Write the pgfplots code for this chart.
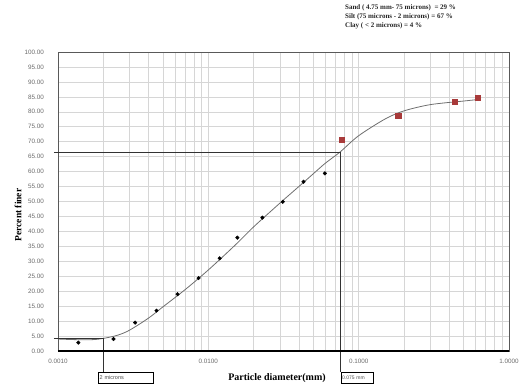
\documentclass[border=0pt]{standalone}
\usepackage{pgfplots}
\pgfplotsset{compat=1.18}
\usepackage{fontspec}
\setmainfont{Liberation Serif}
\setsansfont{Liberation Sans}
\definecolor{gridc}{HTML}{D6D6D6}
\definecolor{curvec}{HTML}{6E6E6E}
\definecolor{redm}{HTML}{A83A3A}
\definecolor{tickc}{HTML}{6A6A6A}
\begin{document}
\begin{tikzpicture}[x=1pt,y=1pt]
\useasboundingbox (-58,-36) rectangle (465,351);
\begin{axis}[
  at={(0,0)}, anchor=south west,
  scale only axis, width=451pt, height=299pt,
  xmode=log, xmin=0.001, xmax=1, ymin=0, ymax=100,
  ytick={0,5,...,100},
  xtick={0.001,0.01,0.1,1},
  xticklabels={0.0010,0.0100,0.1000,1.0000},
  /pgf/number format/assume math mode=true,
  yticklabel style={/pgf/number format/fixed,/pgf/number format/fixed zerofill,/pgf/number format/precision=2, xshift=-10.5pt},
  xticklabel style={yshift=-5pt},
  ticklabel style={font=\sffamily\fontsize{6.3}{7}\selectfont, text=tickc},
  grid=both,
  major grid style={gridc, line width=0.5pt},
  minor grid style={gridc, line width=0.5pt},
  major tick length=0pt, minor tick length=0pt,
  axis line style={draw=gray!70!black, line width=0.6pt},
  clip=false,
]
\addplot[smooth, curvec, line width=0.8pt] coordinates {
(0.001,4.0) (0.0013,3.8) (0.0017,3.8) (0.002,4.2) (0.0025,5.3) (0.003,7.0)
(0.004,11.0) (0.005,14.8) (0.007,20.5) (0.01,27.1) (0.015,35.3) (0.02,41.5)
(0.03,49.5) (0.04,55.0) (0.05,59.3) (0.06,62.8) (0.075,66.5) (0.1,72.0)
(0.15,77.6) (0.2,80.3) (0.3,82.4) (0.5,83.6) (0.65,84.2)};
\addplot[only marks, mark=*, mark size=1.8pt, black] coordinates {
(0.001365,2.8) (0.00234,4.0) (0.00326,9.5) (0.00452,13.5) (0.00624,19.0)
(0.00861,24.4) (0.0119,31.0) (0.0156,37.9) (0.0229,44.6) (0.0313,49.9)
(0.043,56.6) (0.0596,59.4)};
\addplot[only marks, mark=square*, mark size=2.6pt, redm] coordinates {
(0.0767,70.8) (0.183,78.8) (0.434,83.5) (0.618,84.6)};
\draw[black!80, line width=0.7pt] ([xshift=-4pt]axis cs:0.001,66.5) -- (axis cs:0.075,66.5) -- (axis cs:0.075,-7.0);
\draw[black!80, line width=0.7pt] ([xshift=-4pt]axis cs:0.001,4.2) -- (axis cs:0.002,4.2) -- (axis cs:0.002,-7.0);
\draw[black, line width=1.3pt] (axis cs:0.001,0) -- (axis cs:1,0);
\end{axis}
\node[draw=black, line width=0.4pt, inner sep=1pt, anchor=north west, minimum width=55pt, minimum height=11pt, text width=52pt, align=left, font=\sffamily\fontsize{5.5}{6}\selectfont, text=black!70] at (40,-21) {2 microns};
\node[draw=black, line width=0.4pt, inner sep=1pt, anchor=north west, minimum width=32pt, minimum height=11pt, text width=30pt, align=left, font=\sffamily\fontsize{5}{6}\selectfont, text=black!70] at (283,-21) {0.075 mm};
\node[rotate=90, font=\bfseries\fontsize{9.5}{11}\selectfont] at (-40,136) {Percent finer};
\node[font=\bfseries\fontsize{10}{12}\selectfont] at (219,-27) {Particle diameter(mm)};
\node[anchor=north west, inner sep=0pt, align=left, font=\bfseries\fontsize{7}{9}\selectfont, text=black!85] at (287,347)
{Sand ( 4.75 mm- 75 microns)\ \ = 29 \%\\ Silt (75 microns - 2 microns) = 67 \%\\ Clay ( < 2 microns) = 4 \%};
\end{tikzpicture}
\end{document}
